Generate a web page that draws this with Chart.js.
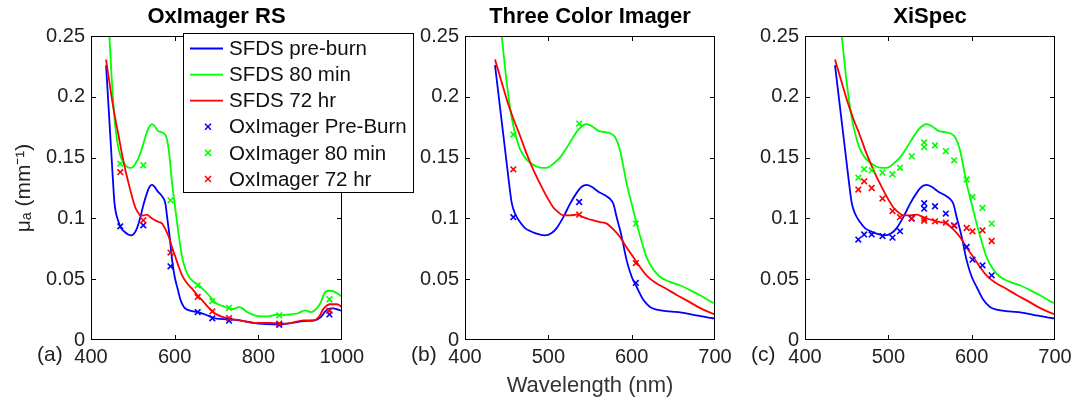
<!DOCTYPE html>
<html><head><meta charset="utf-8">
<script src="https://cdn.jsdelivr.net/npm/chart.js@4/dist/chart.umd.min.js"></script>
<style>
html,body{margin:0;padding:0;background:#fff;overflow:hidden;width:1075px;height:405px;position:relative;}
canvas{position:absolute;top:0;}
</style></head><body>
<canvas id="ca" width="433" height="405" style="left:0px"></canvas>
<canvas id="cb" width="380" height="405" style="left:400px"></canvas>
<canvas id="cc" width="370" height="405" style="left:745px"></canvas>
<script>
// ---------- DATA ----------
const panelTitles = ['OxImager RS', 'Three Color Imager', 'XiSpec'];
const panelLetters = ['(a)', '(b)', '(c)'];
const sfdsLabels = ['SFDS pre-burn', 'SFDS 80 min', 'SFDS 72 hr'];
const oxLabels = ['OxImager Pre-Burn', 'OxImager 80 min', 'OxImager 72 hr'];
const tcLabels = ['Three Color Pre-Burn', 'Three Color 80 min', 'Three Color 72 hr'];
const xsLabels = ['XiSpec Pre-Burn', 'XiSpec 80 min', 'XiSpec 72 hr'];
const yTicks = [0, 0.05, 0.1, 0.15, 0.2, 0.25];
const xTicksA = [400, 600, 800, 1000];
const xTicksBC = [400, 500, 600, 700];

// SFDS curves (wavelength nm, mu_a mm^-1)
const sfdsPreWl = [436,440,444,448,452,456,460,466,472,480,488,496,504,510,518,526,534,540,546,552,560,568,574,578,582,588,594,600,606,614,622,630,645,660,680,700,730,765,800,850,880,910,935,950,960,970,980,990,1000];
const sfdsPreMu = [0.226,0.203,0.180,0.157,0.134,0.113,0.104,0.097,0.092,0.089,0.087,0.086,0.088,0.092,0.101,0.112,0.121,0.126,0.1275,0.126,0.122,0.119,0.116,0.112,0.101,0.085,0.0655,0.052,0.0436,0.033,0.0271,0.025,0.0235,0.0225,0.020,0.0176,0.017,0.0156,0.0135,0.0129,0.014,0.0156,0.0162,0.019,0.0235,0.0258,0.026,0.025,0.0239];

const sfds80Wl = [436,440,444,450,456,462,466,472,478,486,494,500,506,514,522,530,536,542,546,552,560,568,574,580,586,594,600,606,612,618,626,634,645,658,670,682,700,715,730,742,753,762,773,790,805,825,845,860,876,895,912,925,935,948,960,970,980,990,1000];
const sfds80Mu = [0.295,0.272,0.25,0.212,0.183,0.165,0.157,0.150,0.146,0.1425,0.1415,0.142,0.145,0.150,0.158,0.167,0.173,0.1765,0.1775,0.176,0.172,0.171,0.170,0.167,0.156,0.1286,0.112,0.0957,0.081,0.068,0.058,0.052,0.048,0.045,0.041,0.0368,0.030,0.028,0.0258,0.0255,0.0271,0.026,0.023,0.0205,0.0195,0.0195,0.0209,0.0205,0.0211,0.022,0.0244,0.023,0.0245,0.030,0.0395,0.0405,0.040,0.038,0.0354];

const sfds72Wl = [436,444,450,458,466,474,482,490,498,506,512,518,526,534,542,548,554,562,570,578,586,594,602,610,618,630,642,654,666,680,690,700,729,757,789,829,869,908,932,945,956,972,988,1000];
const sfds72Mu = [0.2306,0.212,0.198,0.182,0.168,0.153,0.140,0.1286,0.118,0.109,0.105,0.1025,0.1025,0.1031,0.101,0.0995,0.0984,0.097,0.0957,0.091,0.0847,0.076,0.068,0.060,0.053,0.0465,0.042,0.037,0.0326,0.027,0.0237,0.0211,0.0176,0.0162,0.014,0.014,0.0135,0.0162,0.0162,0.019,0.0258,0.0294,0.0294,0.0271];

// OxImager RS points
const oxWl = [470, 525, 590, 655, 690, 730, 850, 970];
const oxPre = [0.0935, 0.0943, 0.0606, 0.023, 0.0178, 0.0159, 0.0125, 0.021];
const ox80 = [0.145, 0.1437, 0.1149, 0.045, 0.032, 0.0265, 0.0203, 0.0335];
const ox72 = [0.138, 0.0984, 0.0719, 0.0354, 0.0235, 0.018, 0.0135, 0.024];

// Three Color Imager points
const tcWl = [458, 537, 605];
const tcPre = [0.101, 0.1135, 0.0469];
const tc80 = [0.169, 0.178, 0.0957];
const tc72 = [0.1404, 0.1031, 0.0633];

// XiSpec points
const xsWl = [464, 471, 480, 493, 505, 514, 528, 543, 543, 556, 569, 579, 594, 601, 613, 624];
const xsPre = [0.0826, 0.0868, 0.0868, 0.0855, 0.0842, 0.0895, 0.100, 0.1125, 0.108, 0.110, 0.104, 0.0943, 0.0765, 0.0661, 0.0614, 0.0532];
const xs80 = [0.1335, 0.1405, 0.1395, 0.1376, 0.1363, 0.1416, 0.151, 0.1625, 0.1587, 0.160, 0.1554, 0.1478, 0.132, 0.1176, 0.1086, 0.0957];
const xs72 = [0.1237, 0.1305, 0.125, 0.1163, 0.106, 0.101, 0.0998, 0.0998, 0.098, 0.0976, 0.0965, 0.0938, 0.0921, 0.0894, 0.0902, 0.0814];

// ---------- RENDER ----------
const FONT = "'Liberation Sans', Arial, Helvetica, sans-serif";
Chart.defaults.font.family = FONT;
Chart.defaults.color = '#222';
const COLORS = ['#0000ff', '#00ff00', '#ff0000'];

function pts(xs, ys) { return xs.map((x, i) => ({ x: x, y: ys[i] })); }

const framePlugin = {
  id: 'frame',
  afterLayout(chart) {
    // centre the title over the plot area
    const tb = chart.titleBlock, ca = chart.chartArea;
    if (tb) { tb.left = ca.left; tb.right = ca.right; tb.width = ca.right - ca.left; }
  },
  afterDraw(chart) {
    const ctx = chart.ctx, ca = chart.chartArea;
    const xs = chart.scales.x, ys = chart.scales.y;
    const L = Math.round(ca.left), R = Math.round(ca.right), T = Math.round(ca.top), B = Math.round(ca.bottom);
    ctx.save();
    ctx.strokeStyle = '#000';
    ctx.lineWidth = 1;
    ctx.strokeRect(L + 0.5, T + 0.5, R - L - 1, B - T - 1);
    const len = 5;
    ctx.beginPath();
    xs.ticks.forEach(t => {
      const p = Math.round(xs.getPixelForValue(t.value)) + 0.5;
      if (p < L + 2 || p > R - 2) return;
      ctx.moveTo(p, B); ctx.lineTo(p, B - len);
      ctx.moveTo(p, T); ctx.lineTo(p, T + len);
    });
    ys.ticks.forEach(t => {
      const p = Math.round(ys.getPixelForValue(t.value)) + 0.5;
      if (p < T + 2 || p > B - 2) return;
      ctx.moveTo(L, p); ctx.lineTo(L + len, p);
      ctx.moveTo(R, p); ctx.lineTo(R - len, p);
    });
    ctx.stroke();
    // panel letter
    const letter = chart.options.plugins.frame.letter;
    ctx.font = '21px ' + FONT;
    ctx.fillStyle = '#222';
    ctx.textBaseline = 'alphabetic';
    ctx.textAlign = 'left';
    ctx.fillText(letter, ca.left - 54, ca.bottom + 21);
    ctx.restore();
  }
};

const boxLegendPlugin = {
  id: 'boxLegend',
  afterDraw(chart) {
    if (!chart.options.plugins.boxLegend.show) return;
    const ctx = chart.ctx, ca = chart.chartArea;
    const x0 = Math.round(ca.left) + 92, y0 = Math.round(ca.top) - 3, w = 231, h = 160;
    ctx.save();
    ctx.fillStyle = '#fff';
    ctx.fillRect(x0, y0, w, h);
    ctx.strokeStyle = '#000';
    ctx.lineWidth = 1;
    ctx.strokeRect(x0 + 0.5, y0 + 0.5, w - 1, h - 1);
    ctx.font = '20.5px ' + FONT;
    ctx.textBaseline = 'middle';
    ctx.textAlign = 'left';
    chart.data.datasets.forEach((ds, i) => {
      const yy = y0 + 15.5 + i * 26.1;
      ctx.strokeStyle = ds.borderColor;
      if (ds.type === 'line') {
        ctx.lineWidth = 1.8;
        ctx.beginPath(); ctx.moveTo(x0 + 7, yy); ctx.lineTo(x0 + 40, yy); ctx.stroke();
      } else {
        ctx.lineWidth = 1.5;
        const c = x0 + 25, s = 3;
        ctx.beginPath();
        ctx.moveTo(c - s, yy - s); ctx.lineTo(c + s, yy + s);
        ctx.moveTo(c - s, yy + s); ctx.lineTo(c + s, yy - s);
        ctx.stroke();
      }
      ctx.fillStyle = '#111';
      ctx.fillText(ds.label, x0 + 46, yy + 1);
    });
    ctx.restore();
  }
};

function makePanel(id, o) {
  const datasets = [];
  const sWl = [sfdsPreWl, sfds80Wl, sfds72Wl];
  const sMu = [sfdsPreMu, sfds80Mu, sfds72Mu];
  for (let i = 0; i < 3; i++) {
    datasets.push({
      type: 'line', label: sfdsLabels[i], data: pts(sWl[i], sMu[i]),
      borderColor: COLORS[i], backgroundColor: COLORS[i], borderWidth: 1.8,
      pointRadius: 0, cubicInterpolationMode: 'monotone', fill: false, order: 10 - i
    });
  }
  for (let i = 0; i < 3; i++) {
    datasets.push({
      type: 'scatter', label: o.markerLabels[i], data: pts(o.markerWl, o.markers[i]),
      borderColor: COLORS[i], backgroundColor: COLORS[i], pointStyle: 'crossRot',
      pointRadius: 4, pointBorderWidth: 1.6, borderWidth: 1.6, showLine: false, order: 3 - i
    });
  }
  return new Chart(document.getElementById(id), {
    type: 'line',
    data: { datasets: datasets },
    options: {
      responsive: false, animation: false, events: [],
      layout: { padding: { left: 0, right: o.padRight, top: 0, bottom: 0 } },
      plugins: {
        legend: { display: false }, tooltip: { enabled: false },
        title: { display: true, text: o.title, color: '#000', font: { size: 22, weight: 'bold' }, padding: { top: 4, bottom: 5.6 } },
        frame: { letter: o.letter },
        boxLegend: { show: !!o.legend }
      },
      scales: {
        x: {
          type: 'linear', min: o.xMin, max: o.xMax,
          afterBuildTicks: s => { s.ticks = o.xTicks.map(v => ({ value: v })); },
          afterFit: s => { s.height = 65; },
          grid: { display: false, drawTicks: false }, border: { display: false },
          ticks: { font: { size: 20 }, color: '#222', padding: 5, maxRotation: 0, autoSkip: false, callback: v => String(v) },
          title: o.xTitle ? { display: true, text: o.xTitle, color: '#333', font: { size: 22 }, padding: { top: 0, bottom: 6 } } : { display: false }
        },
        y: {
          type: 'linear', min: 0, max: 0.25,
          afterBuildTicks: s => { s.ticks = yTicks.map(v => ({ value: v })); },
          afterFit: s => { s.width = o.yWidth; },
          grid: { display: false, drawTicks: false }, border: { display: false },
          ticks: { font: { size: 20 }, color: '#222', padding: 6, callback: v => String(+Number(v).toFixed(2)) },
          title: o.yTitle ? { display: true, text: o.yTitle, color: '#222', font: { size: 21 }, padding: { top: 12, bottom: 0 } } : { display: false }
        }
      }
    },
    plugins: [framePlugin, boxLegendPlugin]
  });
}

makePanel('ca', {
  title: panelTitles[0], letter: panelLetters[0], xMin: 400, xMax: 1000, xTicks: xTicksA,
  yWidth: 91, padRight: 91, yTitle: 'μₐ (mm⁻¹)', legend: true,
  markerWl: oxWl, markers: [oxPre, ox80, ox72], markerLabels: oxLabels
});
makePanel('cb', {
  title: panelTitles[1], letter: panelLetters[1], xMin: 400, xMax: 700, xTicks: xTicksBC,
  yWidth: 65, padRight: 65, xTitle: 'Wavelength (nm)',
  markerWl: tcWl, markers: [tcPre, tc80, tc72], markerLabels: tcLabels
});
makePanel('cc', {
  title: panelTitles[2], letter: panelLetters[2], xMin: 400, xMax: 700, xTicks: xTicksBC,
  yWidth: 60, padRight: 60,
  markerWl: xsWl, markers: [xsPre, xs80, xs72], markerLabels: xsLabels
});
</script>
</body></html>
